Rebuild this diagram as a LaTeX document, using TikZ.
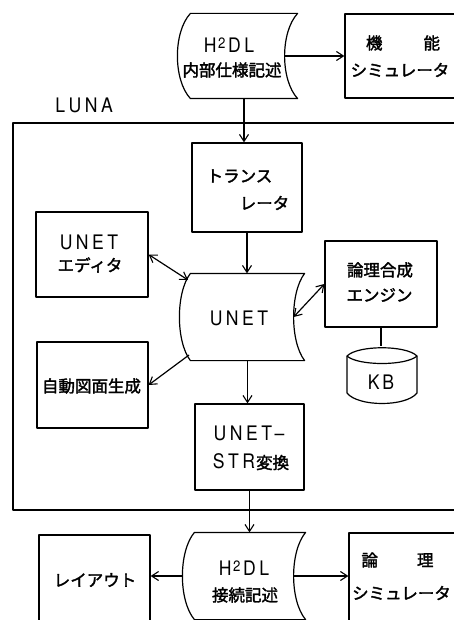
\documentclass[tikz,border=0pt]{standalone}
\usepackage{fontspec}
\setmainfont{Noto Sans CJK JP}[FakeBold=2]
\newfontfamily\heros{TeX Gyre Heros}
\usetikzlibrary{arrows.meta,calc}
\newcommand\lt[1]{\scalebox{0.88}[1]{\heros\fontsize{20}{20}\selectfont #1}}
\newcommand\hHDL{\lt{H\kern2pt\raisebox{4pt}{\fontsize{15}{15}\selectfont 2}\kern3pt D\kern4pt L}}
\newcommand\storeshape[2]{%
  \draw (#1.north west) -- (#1.north east)
    .. controls ($(#1.north east)!0.22!(#1.south east)+(-1.333*#2,0)$)
       and ($(#1.north east)!0.78!(#1.south east)+(-1.333*#2,0)$) .. (#1.south east)
    -- (#1.south west)
    .. controls ($(#1.north west)!0.78!(#1.south west)+(-1.333*#2,0)$)
       and ($(#1.north west)!0.22!(#1.south west)+(-1.333*#2,0)$) .. (#1.north west) -- cycle;}
\begin{document}
\begin{tikzpicture}[x=1pt,y=-1pt,line width=1.2pt,line join=round,
  box/.style={draw,rectangle,inner sep=0pt},
  blank/.style={rectangle,inner sep=0pt},
  lab/.style={inner sep=0pt,font=\fontsize{16.5}{16.5}\selectfont},
  arr/.style={-{Straight Barb[length=7pt,width=9pt,line width=1.1pt]}},
  darr/.style={{Straight Barb[length=7pt,width=9pt,line width=1.1pt]}-{Straight Barb[length=7pt,width=9pt,line width=1.1pt]}}]
\useasboundingbox (0,0) rectangle (454,620);
\clip (0,0) rectangle (454,620);

% boxes
\node[box,minimum width=125pt,minimum height=84pt] (kino) at (407.5,56) {};
\node[box,minimum width=457pt,minimum height=387pt] (luna) at (241.5,316.5) {};
\node[box,minimum width=110pt,minimum height=89pt] (trans) at (247,187.5) {};
\node[box,minimum width=112pt,minimum height=85pt] (edit) at (92,254.5) {};
\node[box,minimum width=112pt,minimum height=86pt] (engine) at (381,284) {};
\node[box,minimum width=111pt,minimum height=86pt] (jido) at (92.5,385) {};
\node[box,minimum width=109pt,minimum height=86pt] (str) at (249.5,447) {};
\node[box,minimum width=111pt,minimum height=105pt] (layout) at (94.5,587.5) {};
\node[box,minimum width=121pt,minimum height=107pt] (ronri) at (409.5,586.5) {};

% storage shapes
\node[blank,minimum width=106pt,minimum height=84pt] (h2top) at (244,56) {};
\node[blank,minimum width=113pt,minimum height=86pt] (unet) at (247.5,317) {};
\node[blank,minimum width=110pt,minimum height=86pt] (h2bot) at (250,576) {};
\storeshape{h2top}{13}
\storeshape{unet}{11}
\storeshape{h2bot}{12}

% KB cylinder
\node[blank,minimum width=70pt,minimum height=58pt] (kb) at (382,375) {};
\draw (347,356) .. controls (358,345) and (406,345) .. (417,356)
      -- (417,393) .. controls (406,407) and (358,407) .. (347,393) -- cycle;
\draw (347,356) .. controls (358,366) and (406,366) .. (417,356);

% texts
\node[lab] (tkino1) at (403,43) {機\hspace{41pt}能};
\node[lab] (tkino2) at (400,70) {シミュレータ};
\node[lab] (th2t1) at (229,45) {\hHDL};
\node[lab] (th2t2) at (232,70) {内部仕様記述};
\node[lab] (tluna) at (84,105) {\lt{L\kern4pt U\kern4pt N\kern4pt A}};
\node[lab] (ttrans1) at (239.5,176) {トランス};
\node[lab] (ttrans2) at (264.5,203) {レータ};
\node[lab] (tedit1) at (89,242) {\lt{U\kern4pt N\kern4pt E\kern4pt T}};
\node[lab] (tedit2) at (90,265) {エディタ};
\node[lab] (tunet) at (239,318) {\lt{U\kern4pt N\kern4pt E\kern4pt T}};
\node[lab] (teng1) at (380,270) {論理合成};
\node[lab] (teng2) at (379.5,295) {エンジン};
\node[lab] (tkb) at (381,382) {\lt{K\kern3pt B}};
\node[lab] (tjido) at (91.5,386) {自動図面生成};
\node[lab] (tstr1) at (249,433) {\lt{U\kern4pt N\kern4pt E\kern4pt T\kern3pt –}};
\node[lab] (tstr2) at (251,462) {\lt{S\kern4pt T\kern4pt R}\kern1pt 変換};
\node[lab] (th2b1) at (244,568) {\hHDL};
\node[lab] (th2b2) at (245,595) {接続記述};
\node[lab] (tlay) at (95,580) {レイアウト};
\node[lab] (tronri1) at (397.5,560) {論\hspace{39pt}理};
\node[lab] (tronri2) at (401.5,593) {シミュレータ};

% connector anchor points on curved sides
\coordinate (h2topR) at ($(h2top.east)+(-13,0)$);
\coordinate (h2topS) at (h2top.south);
\coordinate (unetNW) at (188,280);
\coordinate (unetR) at ($(unet.east)+(-11,0)$);
\coordinate (unetSW) at (189,355);
\coordinate (h2botL) at ($(h2bot.west)+(-12,0)$);
\coordinate (h2botR) at ($(h2bot.east)+(-12,0)$);

% connectors
\draw[arr] (h2topR) -- (h2topR -| kino.west);
\draw[arr] (h2topS) -- (h2topS |- trans.north);
\draw[arr] (trans.south) -- (trans.south |- unet.north);
\draw[darr] (edit.east) -- (unetNW);
\draw[darr] (unetR) -- (engine.west);
\draw[arr] (unetSW) -- (jido.east);
\draw[arr] (unet.south) -- (unet.south |- str.north);
\draw (engine.south) -- (engine.south |- 0,346);
\draw[arr] (str.south) -- (str.south |- h2bot.north);
\draw[arr] (h2botL) -- (h2botL -| layout.east);
\draw[arr] (h2botR) -- (h2botR -| ronri.west);
\end{tikzpicture}
\end{document}
